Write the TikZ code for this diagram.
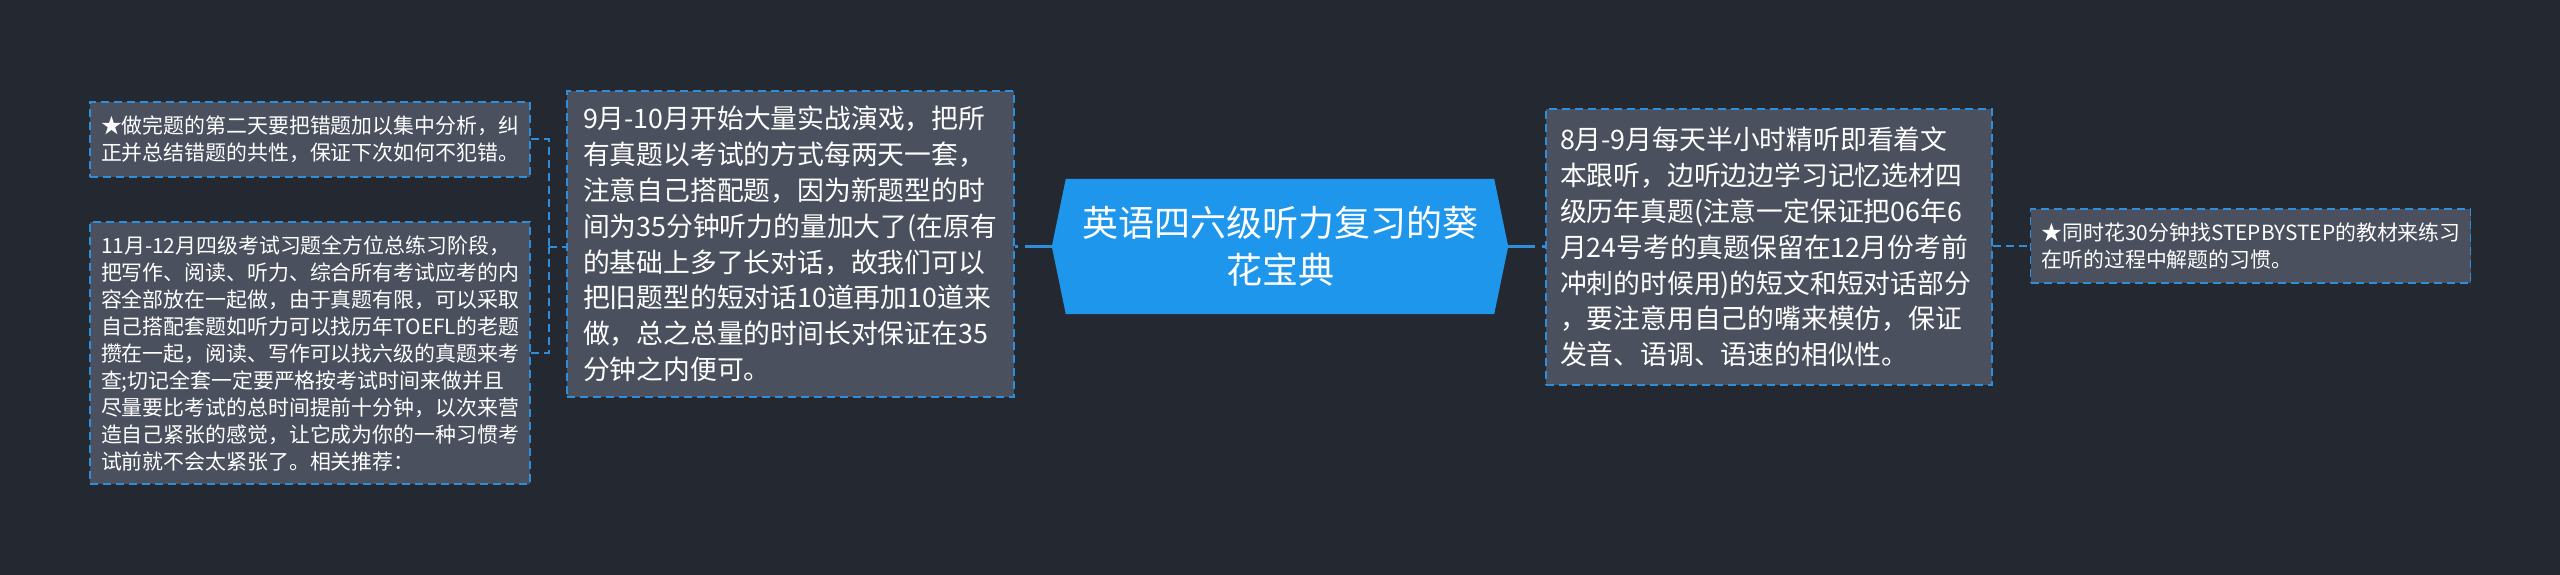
\documentclass[tikz,border=0pt]{standalone}
\usepackage{fontspec}
\setmainfont{Noto Sans CJK SC}
\usetikzlibrary{backgrounds}
\definecolor{bgcol}{HTML}{242830}
\definecolor{boxcol}{HTML}{4A505E}
\definecolor{edgecol}{HTML}{2D8FDB}
\definecolor{rootcol}{HTML}{1E96EB}
\begin{document}
\begin{tikzpicture}[x=1pt,y=-1pt,line cap=butt,line join=miter]
	\tikzset{topic/.style={draw=edgecol,fill=boxcol,line width=1.8pt,dash pattern=on 8pt off 5pt,
			text=white,align=left,inner ysep=0pt},
		small/.style={topic,font=\fontsize{20.9}{27}\selectfont,inner xsep=11pt,text width=418pt,minimum width=440pt},
		big/.style={topic,font=\fontsize{26.8}{35.8}\selectfont},
		link/.style={draw=edgecol,line width=2pt,dash pattern=on 8pt off 5pt},
		rootlink/.style={draw=edgecol,line width=2.4pt,dash pattern=on 27pt off 7pt}}
	\useasboundingbox (0,0) rectangle (2560,575);
	\begin{scope}[on background layer]
		\fill[bgcol] (0,0) rectangle (2560,575);
	\end{scope}
	% centre
	\node[text=white,align=center,inner sep=0pt,minimum width=428pt,minimum height=135pt,
		text width=420pt,font=\fontsize{36}{47}\selectfont] (root) at (1280,246.5)
		{英语四六级听力复习的葵\\花宝典};
	\coordinate (rootL) at ([xshift=-14pt]root.west);
	\coordinate (rootR) at ([xshift=14pt]root.east);
	\begin{scope}[on background layer]
		\fill[rootcol] (rootL)--(root.north west)--(root.north east)--(rootR)--(root.south east)--(root.south west)--cycle;
	\end{scope}
	% left side
	\node[big,inner xsep=16pt,text width=415pt,minimum width=447pt,minimum height=306pt] (mid) at (790.5,244)
		{9月-10月开始大量实战演戏，把所\\有真题以考试的方式每两天一套，\\注意自己搭配题，因为新题型的时\\间为35分钟听力的量加大了(在原有\\的基础上多了长对话，故我们可以\\把旧题型的短对话10道再加10道来\\做，总之总量的时间长对保证在35\\分钟之内便可。};
	\node[small,minimum height=75pt] (b1) at (310,139.5)
		{★做完题的第二天要把错题加以集中分析，纠\\正并总结错题的共性，保证下次如何不犯错。};
	\node[small,minimum height=262pt] (b2) at (310,353)
		{11月-12月四级考试习题全方位总练习阶段，\\把写作、阅读、听力、综合所有考试应考的内\\容全部放在一起做，由于真题有限，可以采取\\自己搭配套题如听力可以找历年TOEFL的老题\\攒在一起，阅读、写作可以找六级的真题来考\\查;切记全套一定要严格按考试时间来做并且\\尽量要比考试的总时间提前十分钟，以次来营\\造自己紧张的感觉，让它成为你的一种习惯考\\试前就不会太紧张了。相关推荐：};
	% right side
	\node[big,inner xsep=14pt,text width=418pt,minimum width=446pt,minimum height=276pt] (rb) at (1769,247)
		{8月-9月每天半小时精听即看着文\\本跟听，边听边边学习记忆选材四\\级历年真题(注意一定保证把06年6\\月24号考的真题保留在12月份考前\\冲刺的时候用)的短文和短对话部分\\，要注意用自己的嘴来模仿，保证\\发音、语调、语速的相似性。};
	\node[small,minimum height=74pt] (fr) at (2250.5,246)
		{★同时花30分钟找STEPBYSTEP的教材来练习\\在听的过程中解题的习惯。};
	% connectors
	\coordinate (lj) at (549,246.5);
	\foreach\b in {b1,b2}{\draw[link] (\b.east) -| (lj);}
	\draw[link] (lj) -- (mid.west |- lj);
	\draw[rootlink] (rootL) -- (rootL -| mid.east);
	\draw[rootlink] (rootR) -- (rootR -| rb.west);
	\draw[link] (rb.east |- fr.west) -- (fr.west);
\end{tikzpicture}
\end{document}
